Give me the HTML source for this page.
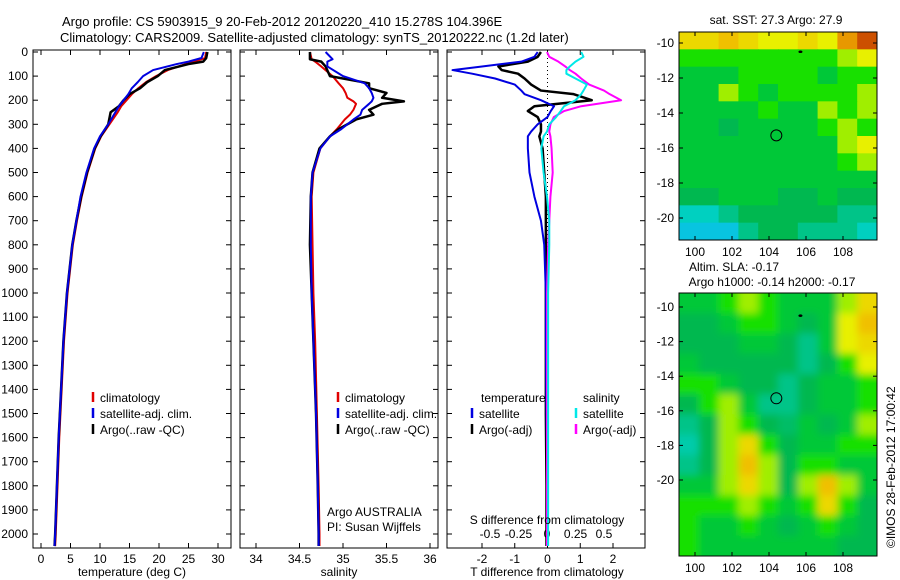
<!DOCTYPE html>
<html><head><meta charset="utf-8"><style>
body{margin:0;background:#fff;}
svg{display:block;font-family:"Liberation Sans",sans-serif;}
text{font-size:12px;fill:#000;}
</style></head><body>
<svg id="s" width="900" height="580" viewBox="0 0 900 580">
<defs>
<clipPath id="c1"><rect x="679" y="32" width="198" height="208"/></clipPath>
<clipPath id="c2"><rect x="679" y="293" width="198" height="263"/></clipPath>
<filter id="bl" x="-5%" y="-5%" width="110%" height="110%"><feGaussianBlur stdDeviation="4"/></filter>
</defs>
<text x="62" y="26" style="font-size:13px">Argo profile: CS 5903915_9 20-Feb-2012 20120220_410 15.278S 104.396E</text>
<text x="60" y="42" style="font-size:13px">Climatology: CARS2009. Satellite-adjusted climatology: synTS_20120222.nc (1.2d later)</text>
<g id="g"></g>
<text x="0" y="0" transform="translate(895,548) rotate(-90)">©IMOS 28-Feb-2012 17:00:42</text>
</svg>
<script>
// ---- data ----
const depthT=[0,25,40,50,75,100,125,150,175,200,225,250,300,350,400,500,600,700,800,1000,1200,1400,1600,1800,2000,2050];
const tempClim=[28,27.8,26,24.5,21.5,19.5,17.8,16.5,15.4,14.5,13.6,13,11.6,10.2,9.2,7.9,6.9,6.1,5.4,4.5,3.9,3.5,3.1,2.8,2.5,2.4];
const tempSat=[27.6,27.2,25,23,19,17.3,16.4,15.4,14.8,14,13.2,12.6,11.4,10,9,7.7,6.7,6,5.3,4.4,3.8,3.4,3,2.7,2.4,2.3];
const tempArgo=[28.2,28,27.5,25,21,19.8,18,16.8,15,14,13.2,11.8,11.4,10.1,9.1,7.8,6.8,6,5.3,4.4,3.8,3.4,3,2.7,2.4,2.3];
const depthS=[0,30,40,60,100,130,150,170,190,205,215,240,260,280,320,350,400,500,600,800,1000,1200,1500,1800,2000,2050];
const salClim=[34.62,34.64,34.68,34.75,34.88,34.95,35,35.03,35.05,35.12,35.15,35.12,35.08,35.02,34.93,34.85,34.74,34.66,34.64,34.65,34.66,34.68,34.7,34.72,34.73,34.73];
const salSat=[34.8,34.88,34.82,34.82,35,35.25,35.3,35.33,35.35,35.33,35.3,35.22,35.2,35.12,34.98,34.85,34.74,34.65,34.63,34.63,34.64,34.66,34.69,34.71,34.72,34.72];
const salArgo=[34.62,34.62,34.75,34.8,34.85,35.3,35.3,35.5,35.45,35.7,35.45,35.3,35.35,35.15,34.95,34.85,34.73,34.65,34.63,34.62,34.64,34.66,34.69,34.71,34.72,34.72];
const depthD=[0,20,40,60,75,90,110,135,160,175,200,225,245,270,300,330,350,400,500,600,700,800,1000,1200,1500,1800,2000,2050];
const tdiffSat=[-0.3,-0.4,-0.8,-2,-2.9,-2.3,-1.6,-1,-0.8,-0.7,-0.2,0.2,0.1,0,-0.3,-0.5,-0.6,-0.6,-0.55,-0.4,-0.2,-0.1,-0.05,-0.05,-0.03,0,0,0];
const tdiffArgo=[-0.2,-0.3,-0.6,-1.5,-1.4,-0.9,-0.7,-0.5,-0.2,0.8,1.35,-0.4,-0.6,-0.3,-0.2,-0.2,-0.25,-0.15,-0.1,-0.05,-0.05,-0.05,-0.05,-0.05,-0.05,-0.03,-0.03,-0.03];
const sdiffSat=[0.3,0.32,0.25,0.2,0.17,0.17,0.25,0.35,0.32,0.3,0.25,0.15,0.12,0.08,0.02,0.0,-0.03,-0.05,-0.03,0,0.02,0.02,0.01,0.01,0.01,0.01,0.01,0.01];
const sdiffArgo=[0,0.02,0.1,0.16,0.2,0.25,0.3,0.37,0.5,0.55,0.65,0.3,0.15,0.06,0.03,0.02,0.03,0.04,0.05,0.03,0.02,0.01,0,0,0,0,0,0];
const depthTicks=[0,100,200,300,400,500,600,700,800,900,1000,1100,1200,1300,1400,1500,1600,1700,1800,1900,2000];
const tempTicks=[0,5,10,15,20,25,30];
const salTicks=[34,34.5,35,35.5,36];
const salTickLabels=["34","34.5","35","35.5","36"];
const tdTicks=[-2,-1,0,1,2];
const sdTicks=[-0.5,-0.25,0,0.25,0.5];
const lonTicks=[100,102,104,106,108];
const latTicks=[-10,-12,-14,-16,-18,-20];
const sstGrid=[
[4.5,4.5,5,4.5,4,4,4.5,4,5.5,6.5],
[3,3,3,3,3,3,3,3,3.5,4],
[2.5,2.5,2.5,3,3,3,3,2.5,3,3],
[2.5,2.5,3.5,3,2.5,3,3,3,3,3.5],
[2.5,2.5,2.5,2.5,3,2.5,2.5,3.5,3,3.5],
[2.5,2.5,2,2.5,2.5,2.5,2.5,3,3.5,3],
[2.5,2.5,2.5,2.5,2.5,2.5,2.5,2.5,3.5,4],
[2.5,2.5,2.5,2.5,2.5,2.5,2.5,2.5,3,3.5],
[2.5,2.5,2.5,2.5,2.5,2.5,2.5,2.5,2.5,2.5],
[2,2,2.5,2.5,2.5,2,2,2.5,2,2],
[1,1,1.5,2,2,2,2,2,1.5,1.5],
[0.5,0.5,0.5,1.5,2,2,1.5,1.5,1.5,1]];
const slaGrid=[
[2.5,2.5,3,3.5,3,2.5,2.5,2.5,3.5,4.5],
[2,2,2.5,3,3,2.5,2,2.5,4,5],
[2,2,2,2.5,2.5,2,1.5,2.5,4,4.5],
[2.5,2,2,2,2,2,1.5,2,3,4],
[3,3,2.5,2,2,1.5,2,2.5,2.5,3],
[2,3,3.5,2.5,1.5,1.5,2,2.5,2.5,3],
[1.5,2,3.5,3,2,1.8,2.5,2,2.5,3.5],
[1.2,2,3.5,4.5,3,2,2.5,2.5,3,3],
[1.5,2,3.5,5,3.5,2,3,3,2.5,2.5],
[2.5,2.5,3.5,4.5,3.5,2,3.5,5,3.5,2.5],
[3,3,3,3.5,3,2.5,3,4.5,3,2],
[3,2.5,2.5,3,2.5,2,2.5,3,2.5,2],
[3,2.5,2.5,2.5,2.5,2.5,2.5,2.5,2,2]];
// ---- helpers ----
const NS="http://www.w3.org/2000/svg",G=document.getElementById('g');
function mk(t,a,p){const e=document.createElementNS(NS,t);for(const k in a)e.setAttribute(k,a[k]);(p||G).appendChild(e);return e;}
const yD=d=>52+d*0.241;
function panel(x0,name){const r=mk('rect',{x:x0,y:50,width:198,height:498,fill:'none',stroke:'#000','stroke-width':1});

}
function line(xs,ds,xf,col,w,name){const p=mk('polyline',{points:xs.map((v,i)=>xf(v)+','+yD(ds[i])).join(' '),fill:'none',stroke:col,'stroke-width':w,'stroke-linejoin':'round'});

}
function txt(x,y,s,anchor,name,size){const t=mk('text',{x:x,y:y,'text-anchor':anchor||'start'});if(size)t.style.fontSize=size+'px';t.textContent=s;

return t;}
function xticks(vals,labels,xf,name,top){vals.forEach((v,i)=>{const x=xf(v);mk('line',{x1:x,x2:x,y1:548,y2:543,stroke:'#000'});if(top)mk('line',{x1:x,x2:x,y1:50,y2:55,stroke:'#000'});txt(x,563,labels[i],'middle',name);});}
// ---- panel 1 temperature ----
const xT=v=>41+v*5.9;
panel(33,'temperature-panel');
depthTicks.forEach(d=>{const y=yD(d);mk('line',{x1:33,x2:38,y1:y,y2:y,stroke:'#000'});mk('line',{x1:231,x2:226,y1:y,y2:y,stroke:'#000'});txt(28,y+4,String(d),'end','depth-tick-label');});
xticks(tempTicks,tempTicks.map(String),xT,'temperature-tick-label',true);
line(tempClim,depthT,xT,'#e00000',2,'temperature-climatology-line');
line(tempArgo,depthT,xT,'#000',2.5,'temperature-argo-line');
line(tempSat,depthT,xT,'#0000e0',2,'temperature-satellite-line');
txt(132,576,'temperature (deg C)','middle','temperature-axis-title');
function legend(x,y,items,pre){items.forEach((it,i)=>{mk('line',{x1:x,x2:x,y1:y+i*16-10,y2:y+i*16,stroke:it[1],'stroke-width':2.5});txt(x+7,y+i*16,it[0],'start',pre+'-legend-entry');});}
legend(93,402,[['climatology','#e00000'],['satellite-adj. clim.','#0000e0'],['Argo(..raw -QC)','#000']],'temperature');
// ---- panel 2 salinity ----
const xS=v=>256+(v-34)*87;
panel(240,'salinity-panel');
depthTicks.forEach(d=>{const y=yD(d);mk('line',{x1:240,x2:245,y1:y,y2:y,stroke:'#000'});mk('line',{x1:438,x2:433,y1:y,y2:y,stroke:'#000'});});
xticks(salTicks,salTickLabels,xS,'salinity-tick-label',true);
line(salClim,depthS,xS,'#e00000',2,'salinity-climatology-line');
line(salArgo,depthS,xS,'#000',2.5,'salinity-argo-line');
line(salSat,depthS,xS,'#0000e0',2,'salinity-satellite-line');
txt(339,576,'salinity','middle','salinity-axis-title');
legend(338,402,[['climatology','#e00000'],['satellite-adj. clim.','#0000e0'],['Argo(..raw -QC)','#000']],'salinity');
txt(327,516,'Argo AUSTRALIA','start','float-owner-label');
txt(327,531,'PI: Susan Wijffels','start','float-pi-label');
// ---- panel 3 differences ----
const xTD=v=>547.5+v*32.75, xSD=v=>547+v*114;
panel(447,'difference-panel');
depthTicks.forEach(d=>{const y=yD(d);mk('line',{x1:447,x2:452,y1:y,y2:y,stroke:'#000'});mk('line',{x1:645,x2:640,y1:y,y2:y,stroke:'#000'});});
tdTicks.forEach(v=>{const x=xTD(v);mk('line',{x1:x,x2:x,y1:548,y2:543,stroke:'#000'});mk('line',{x1:x,x2:x,y1:50,y2:55,stroke:'#000'});txt(x,563,String(v),'middle','tdiff-tick-label');});
sdTicks.forEach(v=>{txt(xSD(v),538,String(v),'middle','sdiff-tick-label');});
mk('line',{x1:547.5,x2:547.5,y1:50,y2:548,stroke:'#000','stroke-dasharray':'1,3'});
line(tdiffArgo,depthD,xTD,'#000',2.5,'tdiff-argo-line');
line(tdiffSat,depthD,xTD,'#0000e0',2,'tdiff-satellite-line');
line(sdiffArgo,depthD,xSD,'#ff00ff',2,'sdiff-argo-line');
line(sdiffSat,depthD,xSD,'#00e8e8',2,'sdiff-satellite-line');
txt(481,402,'temperature','start','tdiff-legend-title');
txt(583,402,'salinity','start','sdiff-legend-title');
legend(472,418,[['satellite','#0000e0'],['Argo(-adj)','#000']],'tdiff');
legend(576,418,[['satellite','#00e8e8'],['Argo(-adj)','#ff00ff']],'sdiff');
txt(547,524,'S difference from climatology','middle','sdiff-axis-title');
txt(547,576,'T difference from climatology','middle','tdiff-axis-title');
// ---- maps ----
const stops=[[0,[16,184,255]],[1,[0,208,192]],[2,[0,184,80]],[2.5,[0,200,56]],[3,[24,224,0]],[3.5,[160,238,0]],[4,[232,240,0]],[5,[240,192,0]],[6,[224,112,0]],[7,[184,48,0]]];
function col(v){for(let i=1;i<stops.length;i++){if(v<=stops[i][0]){const a=stops[i-1],b=stops[i],t=(v-a[0])/(b[0]-a[0]);return 'rgb('+a[1].map((c,j)=>Math.round(c+(b[1][j]-c)*t)).join(',')+')';}}return 'rgb(184,48,0)';}
function map(grid,x0,y0,w,h,clip,blur,name,lonF,latF){
 const g=mk('g',{'clip-path':'url(#'+clip+')'});
 const inner=mk('g',blur?{filter:'url(#bl)'}:{},g);
 const rows=grid.length,cols=grid[0].length,cw=w/cols,ch=h/rows;
 grid.forEach((r,i)=>r.forEach((v,j)=>{const c=mk('rect',{x:x0+j*cw-(blur?(j==0?12:0):0),y:y0+i*ch-(blur&&i==0?12:0),width:cw+0.6+(blur&&(j==0||j==cols-1)?12:0),height:ch+0.6+(blur&&(i==0||i==rows-1)?12:0),fill:col(v)},inner);
 
 }));
 mk('rect',{x:x0,y:y0,width:w,height:h,fill:'none',stroke:'#000'});
 lonTicks.forEach(v=>{const x=lonF(v);mk('line',{x1:x,x2:x,y1:y0+h,y2:y0+h-4,stroke:'#000'});mk('line',{x1:x,x2:x,y1:y0,y2:y0+4,stroke:'#000'});txt(x,y0+h+16,String(v),'middle','longitude-tick-label');});
 latTicks.forEach(v=>{const y=latF(v);mk('line',{x1:x0,x2:x0+4,y1:y,y2:y,stroke:'#000'});mk('line',{x1:x0+w,x2:x0+w-4,y1:y,y2:y,stroke:'#000'});txt(x0-5,y+4,String(v),'end','latitude-tick-label');});
 mk('circle',{cx:lonF(104.396),cy:latF(-15.278),r:5.5,fill:'none',stroke:'#000','stroke-width':1});
 mk('ellipse',{cx:lonF(105.7),cy:latF(-10.5),rx:2,ry:1.3,fill:'#000'});
}
const lon=v=>695+(v-100)*18.5;
map(sstGrid,679,32,198,208,'c1',false,'sst-map',lon,v=>43+(-10-v)*17.5);
map(slaGrid,679,293,198,263,'c2',true,'sla-map',lon,v=>307+(-10-v)*17.3);
txt(776,24,'sat. SST: 27.3 Argo: 27.9','middle','sst-map-title');
txt(734,271,'Altim. SLA: -0.17','middle','sla-map-title');
txt(772,286,'Argo h1000: -0.14 h2000: -0.17','middle','sla-map-subtitle');
</script>
</body></html>
